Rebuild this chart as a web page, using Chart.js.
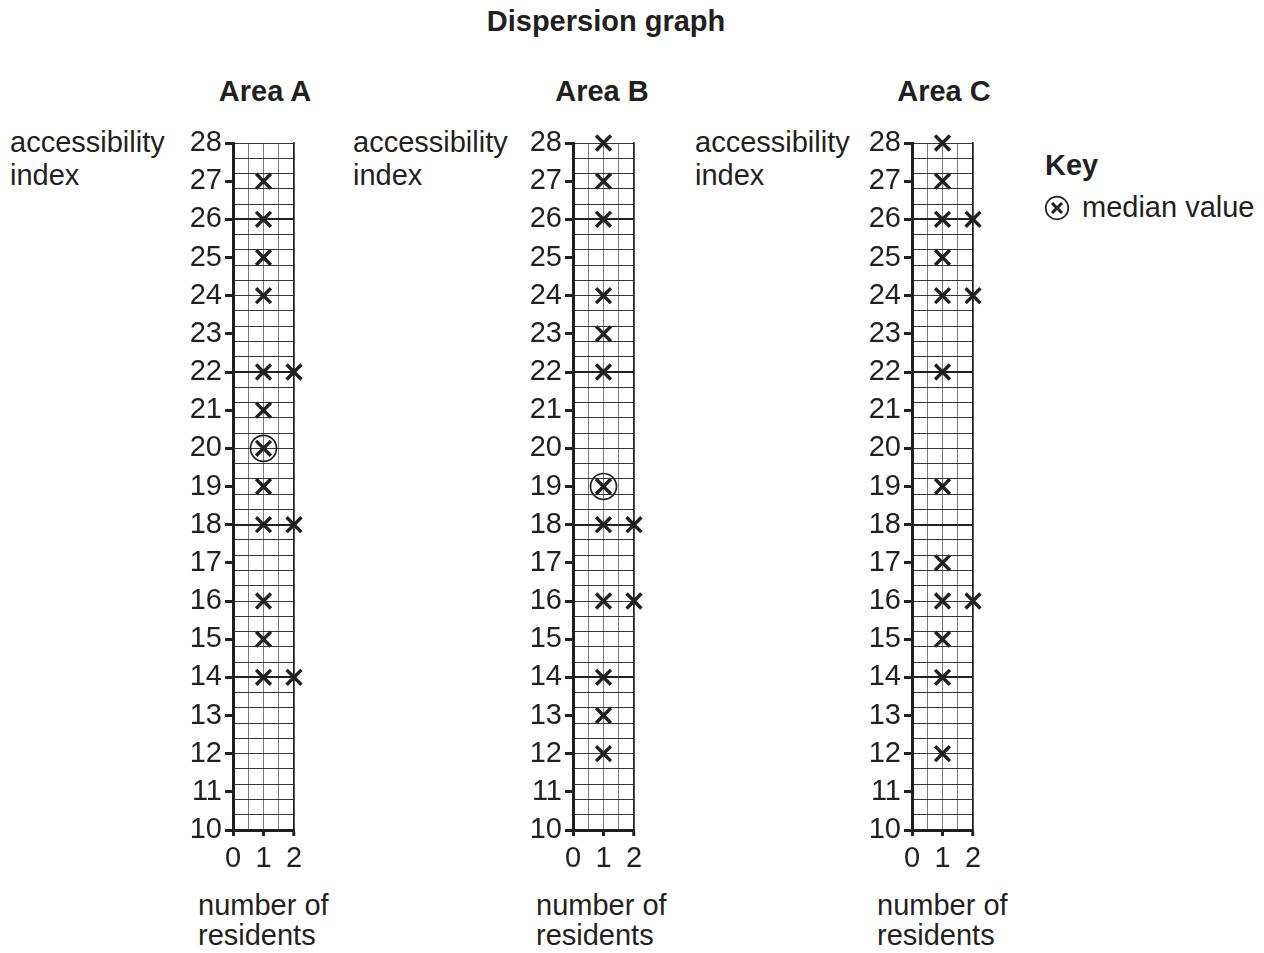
<!DOCTYPE html>
<html>
<head>
<meta charset="utf-8">
<script src="https://cdn.jsdelivr.net/npm/chart.js@4.4.1/dist/chart.umd.min.js"></script>
<style>
  html, body { margin:0; padding:0; background:#fff; }
  body { width:1264px; height:953px; position:relative; overflow:hidden;
         font-family:"Liberation Sans", Arial, Helvetica, sans-serif; color:#231f20; }
  .t { position:absolute; font-size:29px; line-height:33px; white-space:nowrap; }
  .b { font-weight:bold; }
  .c { transform:translateX(-50%); }
  canvas { position:absolute; }
</style>
</head>
<body>
<div class="t b c" style="left:606px; top:5px;">Dispersion graph</div>

<div class="t b c" style="left:265px; top:75px;">Area A</div>
<div class="t b c" style="left:602px; top:75px;">Area B</div>
<div class="t b c" style="left:944px; top:75px;">Area C</div>

<div class="t" style="left:10px; top:126px;">accessibility<br>index</div>
<div class="t" style="left:353px; top:126px;">accessibility<br>index</div>
<div class="t" style="left:695px; top:126px;">accessibility<br>index</div>

<div class="t" style="left:198px; top:890px; line-height:30px;">number of<br>residents</div>
<div class="t" style="left:536px; top:890px; line-height:30px;">number of<br>residents</div>
<div class="t" style="left:877px; top:890px; line-height:30px;">number of<br>residents</div>

<div class="t b" style="left:1045px; top:149px;">Key</div>
<svg style="position:absolute; left:1044px; top:195px;" width="26" height="26" viewBox="0 0 26 26">
  <circle cx="13" cy="13" r="11.3" fill="none" stroke="#231f20" stroke-width="1.7"/>
  <path d="M8 8 L18 18 M18 8 L8 18" stroke="#231f20" stroke-width="3"/>
</svg>
<div class="t" style="left:1082px; top:191px;">median value</div>

<canvas id="cA" width="150" height="780" style="left:179px; top:110px;"></canvas>
<canvas id="cB" width="150" height="780" style="left:519px; top:110px;"></canvas>
<canvas id="cC" width="150" height="780" style="left:858px; top:110px;"></canvas>

<script>
// ---- data ----
const yTicks = [10,11,12,13,14,15,16,17,18,19,20,21,22,23,24,25,26,27,28];
const xTicks = [0,1,2];

const areaA_one = [27,26,25,24,22,21,20,19,18,16,15,14];
const areaA_two = [22,18,14];
const areaA_median = [20];

const areaB_one = [28,27,26,24,23,22,19,18,16,14,13,12];
const areaB_two = [18,16];
const areaB_median = [19];

const areaC_one = [28,27,26,25,24,22,19,17,16,15,14,12];
const areaC_two = [26,24,16];
const areaC_median = [];

const INK = '#231f20';
const FONT = "'Liberation Sans', Arial, Helvetica, sans-serif";

function pts(xv, arr){ return arr.map(v => ({x:xv, y:v})); }

function makeChart(id, one, two, median){
  const datasets = [
    { data: pts(1, one).concat(pts(2, two)), pointStyle:'crossRot', pointRadius:10.5,
      borderColor:INK, backgroundColor:INK, pointBorderWidth:3.4, showLine:false, clip:false },
    { data: pts(1, median), pointStyle:'circle', pointRadius:13,
      borderColor:INK, backgroundColor:'rgba(0,0,0,0)', pointBorderWidth:1.7, showLine:false, clip:false }
  ];
  return new Chart(document.getElementById(id), {
    type:'scatter',
    data:{ datasets },
    options:{
      responsive:false, animation:false, devicePixelRatio:1,
      layout:{ padding:{ top:33, right:35, left:0, bottom:0 } },
      plugins:{ legend:{display:false}, tooltip:{enabled:false}, title:{display:false} },
      scales:{
        x:{
          type:'linear', position:'bottom', min:xTicks[0], max:xTicks[xTicks.length-1],
          afterFit: s => { s.height = 60; },
          afterBuildTicks: s => { const t=[]; for(let i=0;i<=4;i++) t.push({value:i*0.5}); s.ticks=t; },
          ticks:{ autoSkip:false, maxRotation:0, padding:6, color:INK,
                  font:{ family:FONT, size:29 },
                  callback: v => (xTicks.includes(v) ? String(v) : '') },
          grid:{ drawOnChartArea:true, drawTicks:true, tickLength:6, tickWidth:3,
                 tickColor: c => (c.tick && xTicks.includes(c.tick.value)) ? INK : 'rgba(0,0,0,0)',
                 color: c => (c.tick && (c.tick.value===2)) ? INK : '#7a7a7a',
                 lineWidth: c => (c.tick && (c.tick.value===2)) ? 1.5 : 1 },
          border:{ display:true, color:INK, width:3 }
        },
        y:{
          type:'linear', position:'left', min:yTicks[0], max:yTicks[yTicks.length-1],
          afterFit: s => { s.width = 54; },
          afterBuildTicks: s => { s.ticks = yTicks.map(v => ({value:v})); },
          ticks:{ autoSkip:false, padding:3, color:INK, font:{ family:FONT, size:29 } },
          grid:{ drawOnChartArea:false, drawTicks:true, tickLength:8, tickWidth:3, tickColor:INK },
          border:{ display:true, color:INK, width:3, z:2 }
        },
        yg:{
          type:'linear', position:'right', min:yTicks[0], max:yTicks[yTicks.length-1],
          afterFit: s => { s.width = 0; },
          afterBuildTicks: s => { const t=[]; for(let i=0;i<=45;i++) t.push({value: +(10 + i*0.4).toFixed(1)}); s.ticks=t; },
          ticks:{ display:false },
          grid:{ drawOnChartArea:true, drawTicks:false,
                 color:INK,
                 lineWidth: c => (c.index % 10 === 0) ? 2 : 0.9 },
          border:{ display:true, color:INK, width:1.5 }
        }
      }
    }
  });
}

makeChart('cA', areaA_one, areaA_two, areaA_median);
makeChart('cB', areaB_one, areaB_two, areaB_median);
makeChart('cC', areaC_one, areaC_two, areaC_median);
</script>
</body>
</html>
